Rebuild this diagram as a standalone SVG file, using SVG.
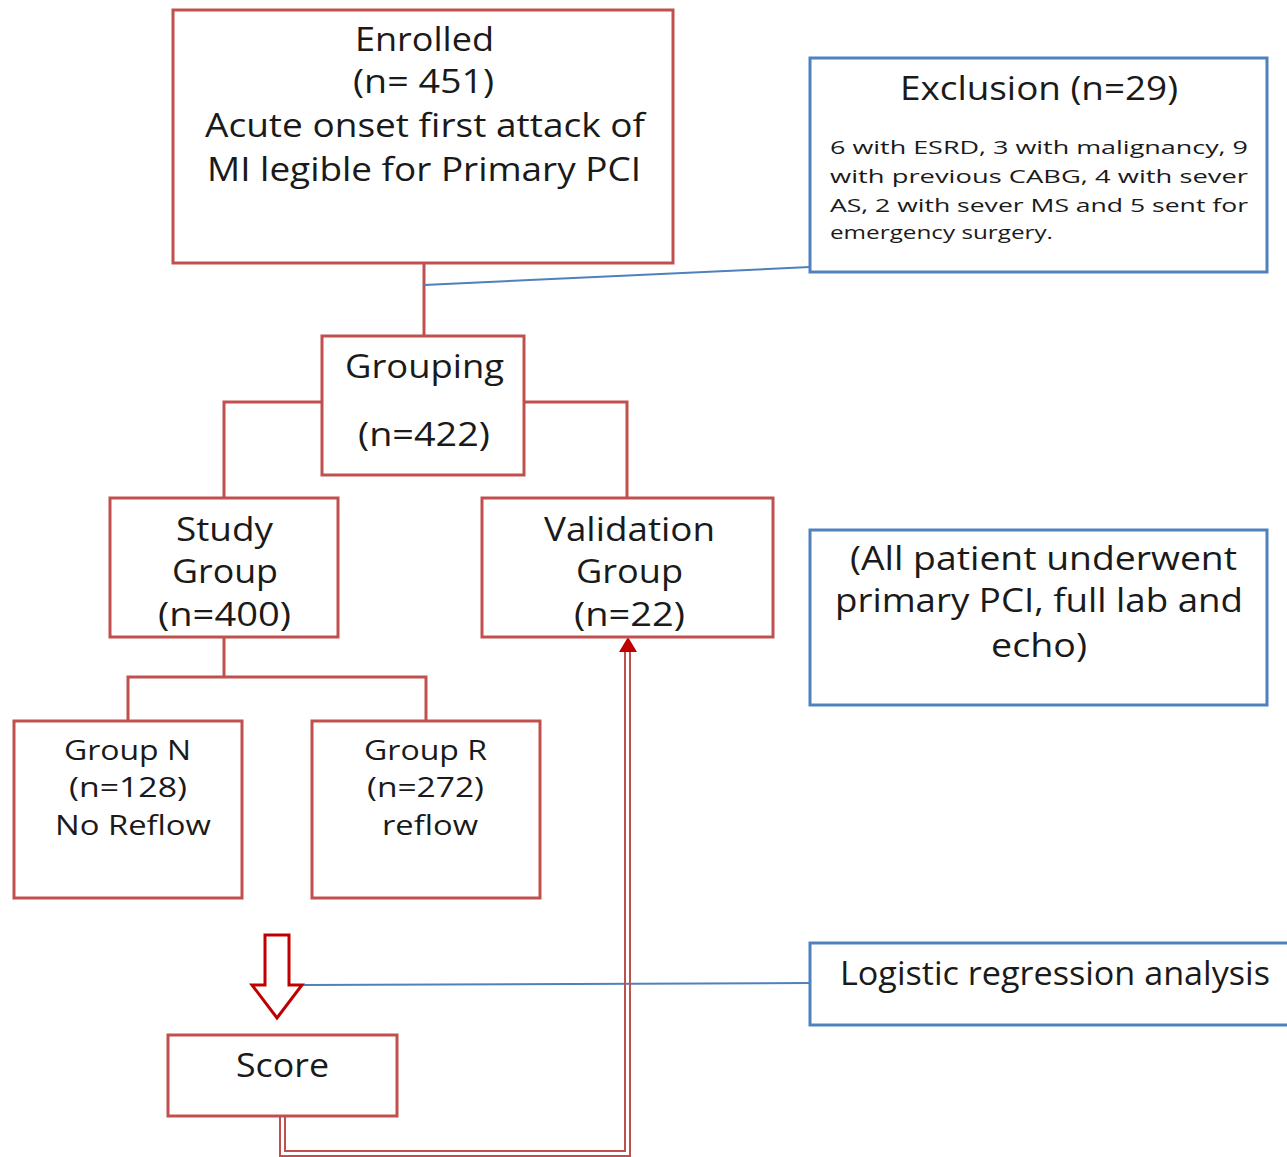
<svg xmlns="http://www.w3.org/2000/svg" width="1287" height="1157" viewBox="0 0 1287 1157">
<defs>
<style>
.rb{fill:#fff;stroke:#C0504D;stroke-width:3}
.bb{fill:#fff;stroke:#4F81BD;stroke-width:3}
.rl{fill:none;stroke:#C0504D;stroke-width:3}
.bl{fill:none;stroke:#4F81BD;stroke-width:2}
text{font-family:"Open Sans","DejaVu Sans",sans-serif;fill:#1a1a1a}
.t30{font-size:33px}
.t26{font-size:28px}
.t17{font-size:19px}
</style>
</defs>
<rect width="1287" height="1157" fill="#fff"/>
<g id="connectors">
<line class="rl" x1="424" y1="258" x2="424" y2="336"/>
<line class="bl" x1="424" y1="285" x2="810" y2="267"/>
<polyline class="rl" points="322,402 224,402 224,498"/>
<polyline class="rl" points="524,402 627,402 627,498"/>
<line class="rl" x1="224" y1="637" x2="224" y2="677"/>
<polyline class="rl" points="128,721 128,677 426,677 426,721"/>
<line class="bl" x1="302" y1="985" x2="810" y2="983"/>
<polyline fill="none" stroke="#C0504D" stroke-width="2" points="280,1112 280,1156 630,1156 630,650"/>
<polyline fill="none" stroke="#C0504D" stroke-width="2" points="285,1112 285,1151 625,1151 625,650"/>
<polygon fill="#C00000" points="628,637 619,652 637,652"/>
<polygon fill="#fff" stroke="#C00000" stroke-width="3" points="265,935 289,935 289,985 302,985 277,1018 252,985 265,985"/>
</g>
<g id="enrolled">
<rect class="rb" x="173" y="10" width="500" height="253"/>
<text class="t30" x="355" y="51" textLength="139" lengthAdjust="spacingAndGlyphs">Enrolled</text>
<text class="t30" x="353" y="93" textLength="141" lengthAdjust="spacingAndGlyphs">(n= 451)</text>
<text class="t30" x="205" y="137" textLength="440" lengthAdjust="spacingAndGlyphs">Acute onset first attack of</text>
<text class="t30" x="207" y="181" textLength="434" lengthAdjust="spacingAndGlyphs">MI legible for Primary PCI</text>
</g>
<g id="exclusion">
<rect class="bb" x="810" y="58" width="457" height="214"/>
<text class="t30" x="900" y="100" textLength="278" lengthAdjust="spacingAndGlyphs">Exclusion (n=29)</text>
<text class="t17" x="830" y="154" textLength="418" lengthAdjust="spacingAndGlyphs">6 with ESRD, 3 with malignancy, 9</text>
<text class="t17" x="830" y="183" textLength="418" lengthAdjust="spacingAndGlyphs">with previous CABG, 4 with sever</text>
<text class="t17" x="830" y="212" textLength="418" lengthAdjust="spacingAndGlyphs">AS, 2 with sever MS and 5 sent for</text>
<text class="t17" x="830" y="239" textLength="223" lengthAdjust="spacingAndGlyphs">emergency surgery.</text>
</g>
<g id="grouping">
<rect class="rb" x="322" y="336" width="202" height="139"/>
<text class="t30" x="345" y="378" textLength="159" lengthAdjust="spacingAndGlyphs">Grouping</text>
<text class="t30" x="358" y="446" textLength="132" lengthAdjust="spacingAndGlyphs">(n=422)</text>
</g>
<g id="study">
<rect class="rb" x="110" y="498" width="228" height="139"/>
<text class="t30" x="176" y="541" textLength="97" lengthAdjust="spacingAndGlyphs">Study</text>
<text class="t30" x="172" y="583" textLength="106" lengthAdjust="spacingAndGlyphs">Group</text>
<text class="t30" x="158" y="626" textLength="133" lengthAdjust="spacingAndGlyphs">(n=400)</text>
</g>
<g id="validation">
<rect class="rb" x="482" y="498" width="291" height="139"/>
<text class="t30" x="544" y="541" textLength="171" lengthAdjust="spacingAndGlyphs">Validation</text>
<text class="t30" x="576" y="583" textLength="107" lengthAdjust="spacingAndGlyphs">Group</text>
<text class="t30" x="574" y="626" textLength="111" lengthAdjust="spacingAndGlyphs">(n=22)</text>
</g>
<g id="note">
<rect class="bb" x="810" y="530" width="457" height="175"/>
<text class="t30" x="850" y="570" textLength="387" lengthAdjust="spacingAndGlyphs">(All patient underwent</text>
<text class="t30" x="835" y="612" textLength="408" lengthAdjust="spacingAndGlyphs">primary PCI, full lab and</text>
<text class="t30" x="991" y="657" textLength="96" lengthAdjust="spacingAndGlyphs">echo)</text>
</g>
<g id="groupN">
<rect class="rb" x="14" y="721" width="228" height="177"/>
<text class="t26" x="64" y="760" textLength="127" lengthAdjust="spacingAndGlyphs">Group N</text>
<text class="t26" x="69" y="797" textLength="118" lengthAdjust="spacingAndGlyphs">(n=128)</text>
<text class="t26" x="55" y="835" textLength="156" lengthAdjust="spacingAndGlyphs">No Reflow</text>
</g>
<g id="groupR">
<rect class="rb" x="312" y="721" width="228" height="177"/>
<text class="t26" x="364" y="760" textLength="123" lengthAdjust="spacingAndGlyphs">Group R</text>
<text class="t26" x="367" y="797" textLength="117" lengthAdjust="spacingAndGlyphs">(n=272)</text>
<text class="t26" x="382" y="835" textLength="96" lengthAdjust="spacingAndGlyphs">reflow</text>
</g>
<g id="score">
<rect class="rb" x="168" y="1035" width="229" height="81"/>
<text class="t30" x="236" y="1077" textLength="93" lengthAdjust="spacingAndGlyphs">Score</text>
</g>
<g id="logistic">
<rect class="bb" x="810" y="943" width="490" height="82"/>
<text class="t30" x="840" y="985" textLength="430" lengthAdjust="spacingAndGlyphs">Logistic regression analysis</text>
</g>
</svg>
